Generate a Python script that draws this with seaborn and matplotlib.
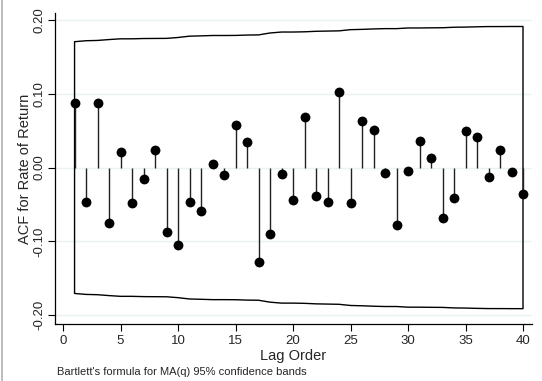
import numpy as np
import pandas as pd
import matplotlib
matplotlib.use('Agg')
import matplotlib.pyplot as plt
import seaborn as sns

# lags and autocorrelations
lags = list(range(1, 41))
acf = [0.087, -0.047, 0.087, -0.075, 0.021, -0.048, -0.016, 0.024, -0.087, -0.105,
       -0.046, -0.059, 0.005, -0.010, 0.058, 0.034, -0.128, -0.090, -0.009, -0.044,
       0.068, -0.039, -0.046, 0.102, -0.048, 0.063, 0.051, -0.007, -0.078, -0.004,
       0.036, 0.013, -0.069, -0.041, 0.049, 0.041, -0.013, 0.024, -0.006, -0.036]
# Bartlett 95% band (upper), lower is the mirror
band = [0.1706, 0.1719, 0.1723, 0.1735, 0.1745, 0.1745, 0.1749, 0.1750, 0.1751, 0.1763,
        0.1781, 0.1785, 0.1790, 0.1790, 0.1791, 0.1796, 0.1798, 0.1824, 0.1837, 0.1837,
        0.1840, 0.1847, 0.1850, 0.1853, 0.1869, 0.1873, 0.1879, 0.1883, 0.1883, 0.1892,
        0.1892, 0.1894, 0.1895, 0.1902, 0.1904, 0.1908, 0.1911, 0.1911, 0.1912, 0.1912]
yticks = [-0.2, -0.1, 0.0, 0.1, 0.2]
ytick_labels = ['-0.20', '-0.10', '0.00', '0.10', '0.20']
xticks = [0, 5, 10, 15, 20, 25, 30, 35, 40]

df = pd.DataFrame({'lag': lags, 'acf': acf, 'band': band})

sns.set_style('white')
plt.rcParams['font.family'] = ['Liberation Sans', 'DejaVu Sans']

fig = plt.figure(figsize=(5.42, 3.81), dpi=100)
ax = fig.add_axes([0.1015, 0.1496, 0.88, 0.8163])

for y in yticks:
    ax.axhline(y, color='#eaf2f3', lw=1.0, zorder=0)

ax.fill_between(df['lag'], -df['band'], df['band'], facecolor='none',
                edgecolor='black', lw=1.0, zorder=1)
ax.vlines(df['lag'], 0, df['acf'], color='#222222', lw=1.0, zorder=2)
sns.scatterplot(data=df, x='lag', y='acf', ax=ax, color='black', s=50,
                edgecolor='black', linewidth=0, zorder=3)

ax.set_xlim(-0.7, 40.78)
ax.set_ylim(-0.212, 0.2095)
ax.set_yticks(yticks)
ax.set_yticklabels(ytick_labels, rotation=90, va='center', fontsize=9.5)
ax.set_xticks(xticks)
ax.set_xticklabels([str(t) for t in xticks], fontsize=9.5)
ax.tick_params(axis='both', direction='out', length=5, width=0.8, color='black',
               left=True, bottom=True, pad=3)
ax.tick_params(axis='y', pad=2)
ax.set_xlabel('Lag Order', fontsize=10.5, labelpad=1)
ax.set_ylabel('ACF for Rate of Return', fontsize=10.5, labelpad=1)

for side in ['top', 'right']:
    ax.spines[side].set_visible(False)
for side in ['left', 'bottom']:
    ax.spines[side].set_color('black')
    ax.spines[side].set_linewidth(0.9)

fig.text(57 / 542, 1 - 372 / 381, "Bartlett's formula for MA(q) 95% confidence bands",
         fontsize=8, va='center', ha='left')
fig.add_artist(plt.Line2D([1.5 / 542, 1.5 / 542], [0, 1], color='#b0b0b0', lw=1.2))

fig.savefig('out.png', dpi=100)
